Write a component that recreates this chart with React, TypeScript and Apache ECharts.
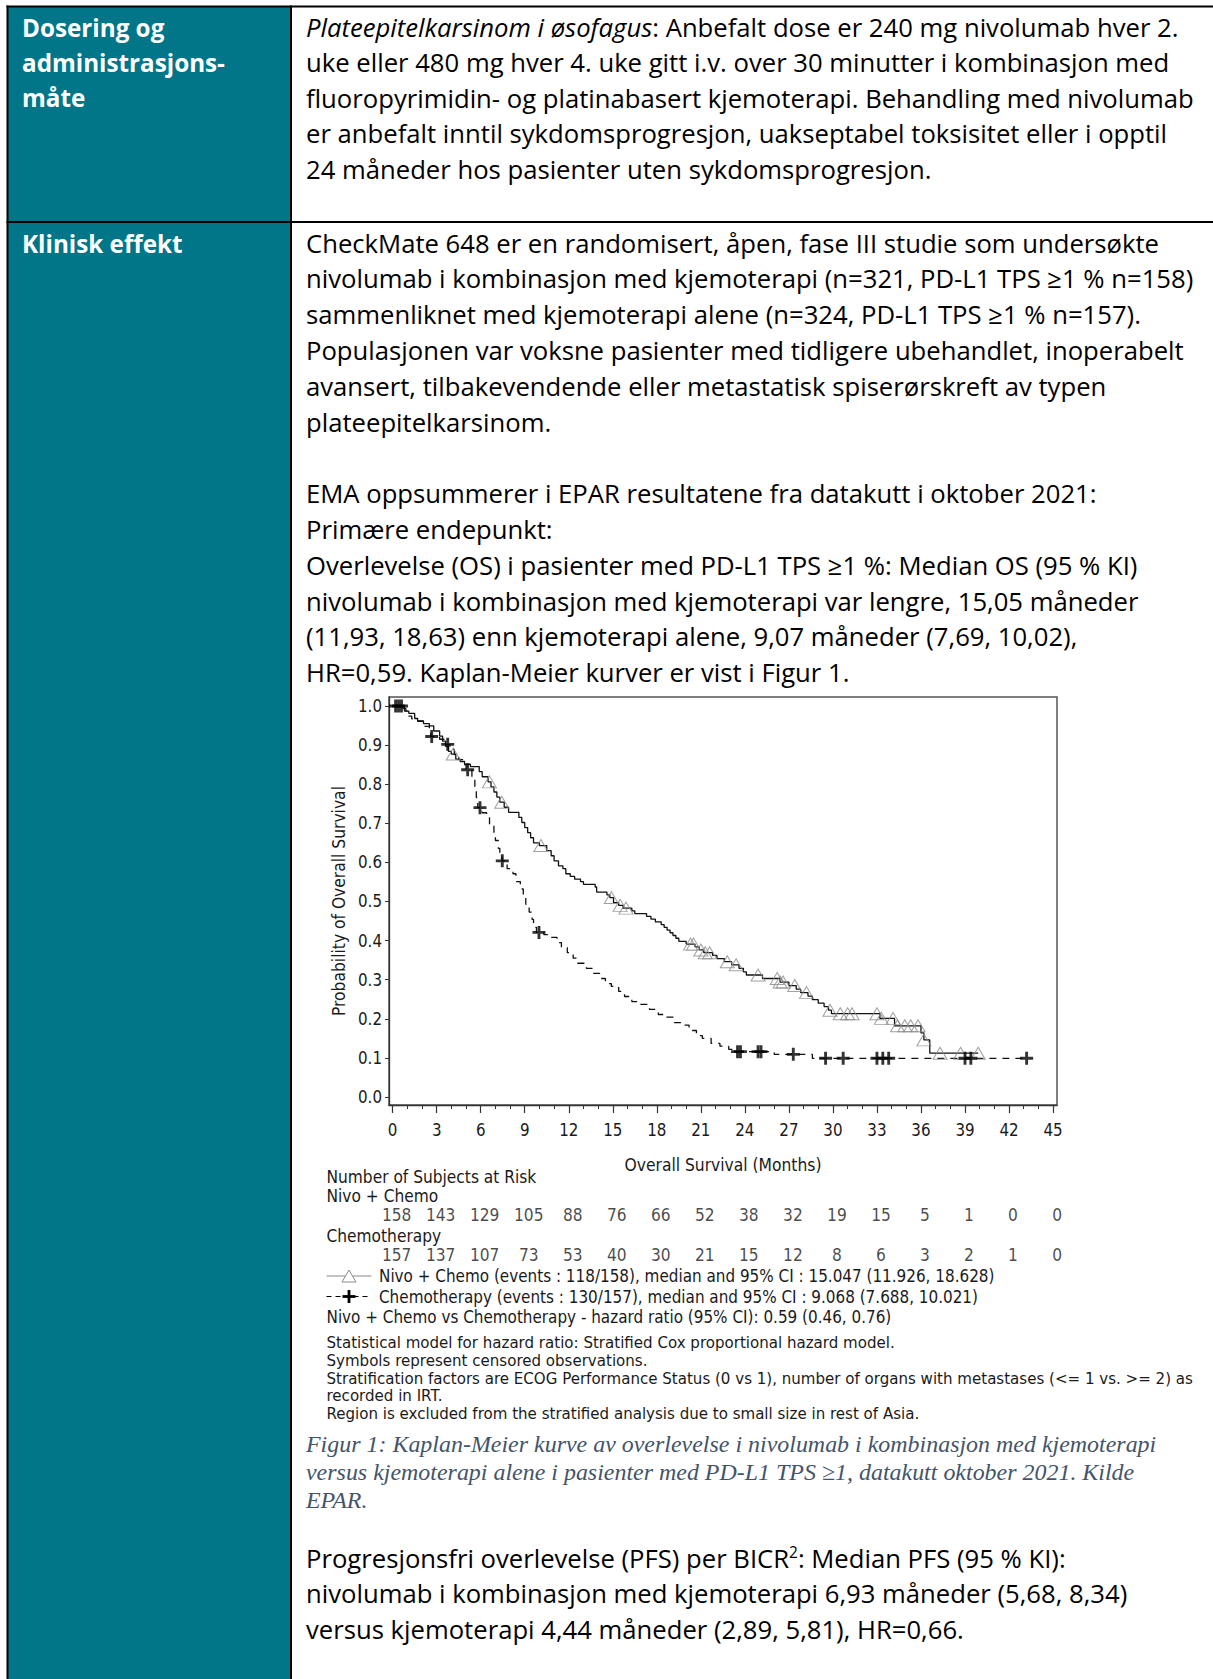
import React, { useEffect, useRef } from "react";
import * as echarts from "echarts";

const W = 1213;
const H = 1679;

// ---------------- data ----------------
const xTicks = [0, 3, 6, 9, 12, 15, 18, 21, 24, 27, 30, 33, 36, 39, 42, 45];
const yTicks = [0, 0.1, 0.2, 0.3, 0.4, 0.5, 0.6, 0.7, 0.8, 0.9, 1.0];
const riskGroups = ["Nivo + Chemo", "Chemotherapy"];
const riskNivo = [158, 143, 129, 105, 88, 76, 66, 52, 38, 32, 19, 15, 5, 1, 0, 0];
const riskChemo = [157, 137, 107, 73, 53, 40, 30, 21, 15, 12, 8, 6, 3, 2, 1, 0];

const nivoTimes = [0, 0.7, 0.9, 1.1, 1.5, 1.7, 2.1, 2.5, 2.8, 3.2, 3.4, 3.6, 3.8, 4.0, 4.3, 4.6, 4.9, 5.3, 5.9, 6.1, 6.5, 6.7, 6.9, 7.1, 7.3, 7.6, 7.9, 8.6, 8.8, 9.0, 9.2, 9.4, 9.6, 10.0, 10.5, 10.8, 11.0, 11.3, 11.6, 11.8, 12.1, 12.4, 12.8, 13.0, 13.8, 13.9, 14.6, 14.8, 15.05, 15.4, 15.7, 16.3, 16.5, 17.3, 17.6, 17.9, 18.3, 18.5, 18.7, 18.9, 19.1, 19.3, 19.5, 20.0, 20.6, 20.9, 21.2, 21.8, 22.1, 22.6, 23.1, 23.6, 23.9, 24.1, 25.2, 26.4, 27.0, 27.5, 27.8, 28.3, 28.6, 29.0, 29.4, 29.7, 29.9, 33.2, 34.2, 36.0, 36.2, 36.6];
const nivoSurv = [1.0, 0.994, 0.987, 0.981, 0.968, 0.962, 0.955, 0.949, 0.936, 0.923, 0.91, 0.897, 0.884, 0.877, 0.864, 0.858, 0.851, 0.845, 0.832, 0.819, 0.806, 0.793, 0.78, 0.767, 0.754, 0.741, 0.728, 0.715, 0.702, 0.689, 0.676, 0.663, 0.65, 0.643, 0.63, 0.617, 0.604, 0.591, 0.584, 0.571, 0.564, 0.557, 0.551, 0.544, 0.537, 0.524, 0.517, 0.51, 0.497, 0.49, 0.483, 0.476, 0.469, 0.462, 0.455, 0.448, 0.441, 0.434, 0.427, 0.42, 0.413, 0.406, 0.398, 0.391, 0.384, 0.376, 0.369, 0.362, 0.354, 0.346, 0.338, 0.329, 0.32, 0.312, 0.303, 0.294, 0.285, 0.276, 0.267, 0.258, 0.249, 0.24, 0.231, 0.222, 0.213, 0.201, 0.182, 0.164, 0.146, 0.112];
const nivoCensor = [4.13, 6.59, 7.43, 10.1, 14.9, 15.5, 15.9, 20.3, 20.5, 21.0, 21.3, 21.6, 22.8, 23.4, 24.9, 26.2, 26.4, 26.6, 27.4, 28.2, 29.8, 30.5, 31.0, 31.3, 33.0, 33.3, 34.1, 34.4, 34.9, 35.3, 35.8, 36.2, 37.3, 38.7, 39.9];

const chemoTimes = [0, 0.8, 1.0, 1.3, 1.7, 2.2, 2.5, 2.6, 3.2, 3.5, 3.9, 4.2, 4.5, 4.8, 5.0, 5.4, 5.6, 5.7, 5.8, 6.1, 6.4, 6.6, 6.9, 7.0, 7.2, 7.3, 7.45, 7.8, 8.2, 8.4, 8.7, 8.9, 9.07, 9.3, 9.5, 9.6, 9.8, 10.3, 10.7, 11.2, 11.5, 11.9, 12.3, 12.6, 13.2, 13.6, 14.1, 14.5, 14.9, 15.4, 15.8, 16.3, 16.8, 17.5, 18.1, 18.6, 19.2, 19.7, 20.2, 20.7, 21.1, 21.7, 22.3, 22.9, 23.4, 26.0, 28.6];
const chemoSurv = [1.0, 0.987, 0.974, 0.967, 0.961, 0.948, 0.941, 0.922, 0.915, 0.902, 0.889, 0.876, 0.863, 0.85, 0.837, 0.818, 0.792, 0.766, 0.74, 0.727, 0.714, 0.694, 0.675, 0.656, 0.636, 0.617, 0.604, 0.584, 0.571, 0.551, 0.532, 0.512, 0.493, 0.473, 0.454, 0.434, 0.421, 0.415, 0.408, 0.395, 0.382, 0.369, 0.355, 0.342, 0.329, 0.316, 0.303, 0.29, 0.283, 0.27, 0.257, 0.244, 0.237, 0.224, 0.211, 0.204, 0.19, 0.184, 0.17, 0.157, 0.15, 0.137, 0.13, 0.122, 0.116, 0.109, 0.099];
const chemoCensor = [0.2, 0.4, 0.6, 2.66, 3.75, 5.11, 5.95, 7.47, 9.97, 23.5, 23.7, 24.9, 25.1, 27.3, 29.5, 30.7, 33.0, 33.4, 33.8, 39.0, 39.4, 43.2];

// ---------------- texts ----------------
const rowOneLeft = ["Dosering og", "administrasjons-", "måte"];
const rowOneRight = [
  "{i|Plateepitelkarsinom i øsofagus}: Anbefalt dose er 240 mg nivolumab hver 2.",
  "uke eller 480 mg hver 4. uke gitt i.v. over 30 minutter i kombinasjon med",
  "fluoropyrimidin- og platinabasert kjemoterapi. Behandling med nivolumab",
  "er anbefalt inntil sykdomsprogresjon, uakseptabel toksisitet eller i opptil",
  "24 måneder hos pasienter uten sykdomsprogresjon.",
];
const rowTwoLeft = ["Klinisk effekt"];
const rowTwoRight = [
  "CheckMate 648 er en randomisert, åpen, fase III studie som undersøkte",
  "nivolumab i kombinasjon med kjemoterapi (n=321, PD-L1 TPS ≥1 % n=158)",
  "sammenliknet med kjemoterapi alene (n=324, PD-L1 TPS ≥1 % n=157).",
  "Populasjonen var voksne pasienter med tidligere ubehandlet, inoperabelt",
  "avansert, tilbakevendende eller metastatisk spiserørskreft av typen",
  "plateepitelkarsinom.",
  "",
  "EMA oppsummerer i EPAR resultatene fra datakutt i oktober 2021:",
  "Primære endepunkt:",
  "Overlevelse (OS) i pasienter med PD-L1 TPS ≥1 %: Median OS (95 % KI)",
  "nivolumab i kombinasjon med kjemoterapi var lengre, 15,05 måneder",
  "(11,93, 18,63) enn kjemoterapi alene, 9,07 måneder (7,69, 10,02),",
  "HR=0,59. Kaplan-Meier kurver er vist i Figur 1.",
];
const captionLines = [
  "Figur 1: Kaplan-Meier kurve av overlevelse i nivolumab i kombinasjon med kjemoterapi",
  "versus kjemoterapi alene i pasienter med PD-L1 TPS ≥1, datakutt oktober 2021. Kilde",
  "EPAR.",
];
const pfsLines = [
  "Progresjonsfri overlevelse (PFS) per BICR{sup|2}: Median PFS (95 % KI):",
  "nivolumab i kombinasjon med kjemoterapi 6,93 måneder (5,68, 8,34)",
  "versus kjemoterapi 4,44 måneder (2,89, 5,81), HR=0,66.",
];
const legendLines = [
  "Nivo + Chemo (events : 118/158), median and 95% CI : 15.047 (11.926, 18.628)",
  "Chemotherapy (events : 130/157), median and 95% CI : 9.068 (7.688, 10.021)",
];
const hrLine = "Nivo + Chemo vs Chemotherapy - hazard ratio (95% CI): 0.59 (0.46, 0.76)";
const footLines = [
  "Statistical model for hazard ratio: Stratified Cox proportional hazard model.",
  "Symbols represent censored observations.",
  "Stratification factors are ECOG Performance Status (0 vs 1), number of organs with metastases (<= 1 vs. >= 2) as",
  "recorded in IRT.",
  "Region is excluded from the stratified analysis due to small size in rest of Asia.",
];

// ---------------- helpers ----------------
const MAIN_F = '"Open Sans", Calibri, sans-serif';
const SERIF_F = '"Liberation Serif", "Times New Roman", serif';
const CHART_F = '"DejaVu Sans Condensed", "DejaVu Sans", sans-serif';
const FOOT_F = '"DejaVu Sans", Verdana, sans-serif';
const TEAL = "#007688";

let measureCtx: CanvasRenderingContext2D | null = null;
function fitSize(text: string, family: string, target: number, weight = "normal", style = "normal") {
  if (!measureCtx) measureCtx = document.createElement("canvas").getContext("2d");
  const ctx = measureCtx!;
  ctx.font = `${style} ${weight} 100px ${family}`;
  const w = ctx.measureText(text).width;
  return w > 0 ? (100 * target) / w : 16;
}

function survAt(times: number[], surv: number[], t: number) {
  let s = surv[0];
  for (let i = 0; i < times.length; i++) {
    if (times[i] <= t) s = surv[i];
  }
  return s;
}

function stepData(times: number[], surv: number[], censor: number[]) {
  const d = times.map((t, i) => [t, surv[i]]);
  const lastC = Math.max(...censor);
  if (lastC > times[times.length - 1]) d.push([lastC, surv[surv.length - 1]]);
  return d;
}

function txt(text: string, x: number, y: number, s: any, rich?: any) {
  return {
    type: "text",
    x,
    y,
    z: 20,
    silent: true,
    style: {
      text,
      fill: s.fill || "#000",
      fontSize: s.size,
      fontFamily: s.family,
      fontWeight: s.weight || "normal",
      fontStyle: s.style || "normal",
      align: "left",
      verticalAlign: "middle",
      rich,
    },
  };
}

function buildOption() {
  const mainSize = fitSize(rowOneRight[1], MAIN_F, 864);
  const boldSize = fitSize("administrasjons-", MAIN_F, 203, "bold");
  const capSize = fitSize(captionLines[0], SERIF_F, 851, "normal", "italic");
  const riskSize = fitSize("Number of Subjects at Risk", CHART_F, 210);
  const legSize = fitSize(legendLines[0], CHART_F, 616);
  const footSize = fitSize(footLines[2], FOOT_F, 867);
  const yNameSize = fitSize("Probability of Overall Survival", CHART_F, 230);
  const xNameSize = fitSize("Overall Survival (Months)", CHART_F, 197);
  const tickSize = fitSize("1.0", CHART_F, 24);

  const mainStyle = { size: mainSize, family: MAIN_F, fill: "#000" };
  const leftStyle = { size: boldSize, family: MAIN_F, fill: "#fff", weight: "bold" };
  const capStyle = { size: capSize, family: SERIF_F, fill: "#44546A", style: "italic" };
  const riskStyle = { size: riskSize, family: CHART_F, fill: "#1a1a1a" };
  const legStyle = { size: legSize, family: CHART_F, fill: "#1a1a1a" };
  const footStyle = { size: footSize, family: FOOT_F, fill: "#1a1a1a" };

  const graphics: any[] = [];
  // table background and borders
  graphics.push({ type: "rect", z: 1, silent: true, shape: { x: 7.5, y: 6.5, width: 283.5, height: H }, style: { fill: TEAL } });
  const border = { stroke: "#000", lineWidth: 2 };
  graphics.push({ type: "line", z: 5, silent: true, shape: { x1: 6.5, y1: 6.5, x2: W, y2: 6.5 }, style: border });
  graphics.push({ type: "line", z: 5, silent: true, shape: { x1: 7.5, y1: 5.5, x2: 7.5, y2: H }, style: border });
  graphics.push({ type: "line", z: 5, silent: true, shape: { x1: 291, y1: 5.5, x2: 291, y2: H }, style: border });
  graphics.push({ type: "line", z: 5, silent: true, shape: { x1: 6.5, y1: 222, x2: W, y2: 222 }, style: border });

  rowOneLeft.forEach((t, i) => graphics.push(txt(t, 22, 27 + i * 35.4, leftStyle)));
  rowTwoLeft.forEach((t, i) => graphics.push(txt(t, 22, 243 + i * 35.8, leftStyle)));
  const richMain = {
    i: { fontStyle: "italic", fontSize: mainSize, fontFamily: MAIN_F, fill: "#000" },
    sup: { fontSize: mainSize * 0.6, fontFamily: MAIN_F, fill: "#000", verticalAlign: "top" },
  };
  rowOneRight.forEach((t, i) => graphics.push(txt(t, 306, 27 + i * 35.6, mainStyle, richMain)));
  rowTwoRight.forEach((t, i) => {
    if (t) graphics.push(txt(t, 306, 243 + i * 35.8, mainStyle));
  });
  captionLines.forEach((t, i) => graphics.push(txt(t, 306, 1444 + i * 27.8, capStyle)));
  pfsLines.forEach((t, i) => graphics.push(txt(t, 306, 1558 + i * 35.8, mainStyle, richMain)));

  // chart annotations
  graphics.push(txt("Number of Subjects at Risk", 326.5, 1177, riskStyle));
  graphics.push(txt(riskGroups[0], 326.5, 1195.5, riskStyle));
  graphics.push(txt(riskGroups[1], 326.5, 1236, riskStyle));
  // legend samples
  graphics.push({ type: "line", z: 20, silent: true, shape: { x1: 326.5, y1: 1276, x2: 371.5, y2: 1276 }, style: { stroke: "#8a8a8a", lineWidth: 1 } });
  graphics.push({ type: "polygon", z: 21, silent: true, shape: { points: [[342, 1282], [349, 1270], [356, 1282]] }, style: { stroke: "#8a8a8a", fill: "#fff", lineWidth: 1 } });
  graphics.push({ type: "line", z: 20, silent: true, shape: { x1: 326.5, y1: 1296.5, x2: 371.5, y2: 1296.5 }, style: { stroke: "#000", lineWidth: 1.2, lineDash: [5, 4] } });
  graphics.push({ type: "rect", z: 21, silent: true, shape: { x: 342.5, y: 1295.1, width: 13, height: 2.8 }, style: { fill: "#000" } });
  graphics.push({ type: "rect", z: 21, silent: true, shape: { x: 347.6, y: 1290, width: 2.8, height: 13 }, style: { fill: "#000" } });
  legendLines.forEach((t, i) => graphics.push(txt(t, 379, 1276 + i * 20.5, legStyle)));
  graphics.push(txt(hrLine, 326.5, 1317, legStyle));
  footLines.forEach((t, i) => graphics.push(txt(t, 326.5, 1343 + i * 17.8, footStyle)));

  const minorTicks: number[] = [];
  for (let m = 0; m <= 45; m++) minorTicks.push(m);

  const xMin = -0.25;
  const xMax = 45.27;
  const axisColor = "#333";

  const nivoLine = stepData(nivoTimes, nivoSurv, nivoCensor);
  const chemoLine = stepData(chemoTimes, chemoSurv, chemoCensor);
  const nivoMarks = nivoCensor.map((t) => [t, survAt(nivoTimes, nivoSurv, t)]);
  const chemoMarks = chemoCensor.map((t) => [t, survAt(chemoTimes, chemoSurv, t)]);

  const riskLabel = {
    show: true,
    position: "inside",
    offset: [4, 0],
    formatter: (p: any) => String(p.value[2]),
    fontSize: riskSize,
    fontFamily: CHART_F,
    color: "#1a1a1a",
  };

  return {
    animation: false,
    backgroundColor: "#fff",
    textStyle: { fontFamily: CHART_F },
    grid: [
      { left: 389, top: 697, width: 668, height: 408, show: true, borderColor: "#555", borderWidth: 1.5, backgroundColor: "transparent" },
      { left: 389, top: 1195, width: 668, height: 80, show: false },
    ],
    xAxis: [
      {
        gridIndex: 0,
        type: "value",
        min: xMin,
        max: xMax,
        position: "bottom",
        axisLine: { show: true, onZero: false, lineStyle: { color: axisColor, width: 1.3 } },
        axisTick: { show: true, customValues: minorTicks, length: 4, lineStyle: { color: axisColor, width: 1 } },
        axisLabel: { show: true, customValues: xTicks, margin: 16, fontSize: tickSize, color: "#1a1a1a", fontFamily: CHART_F },
        splitLine: { show: false },
        name: "Overall Survival (Months)",
        nameLocation: "middle",
        nameGap: 51,
        nameTextStyle: { fontSize: xNameSize, fontFamily: CHART_F, color: "#1a1a1a" },
      },
      {
        gridIndex: 0,
        type: "value",
        min: xMin,
        max: xMax,
        position: "bottom",
        axisLine: { show: false, onZero: false },
        axisTick: { show: true, customValues: xTicks, length: 8, lineStyle: { color: axisColor, width: 1.2 } },
        axisLabel: { show: false },
        splitLine: { show: false },
      },
      { gridIndex: 1, type: "value", min: xMin, max: xMax, show: false },
    ],
    yAxis: [
      {
        gridIndex: 0,
        type: "value",
        min: -0.0205,
        max: 1.023,
        axisLine: { show: true, onZero: false, lineStyle: { color: axisColor, width: 1.3 } },
        axisTick: { show: true, customValues: yTicks, length: 4, lineStyle: { color: axisColor, width: 1 } },
        axisLabel: { show: true, customValues: yTicks, formatter: (v: number) => v.toFixed(1), margin: 7, fontSize: tickSize, color: "#1a1a1a", fontFamily: CHART_F },
        splitLine: { show: false },
        name: "Probability of Overall Survival",
        nameLocation: "middle",
        nameGap: 42,
        nameTextStyle: { fontSize: yNameSize, fontFamily: CHART_F, color: "#1a1a1a" },
      },
      { gridIndex: 1, type: "category", data: riskGroups, inverse: true, show: false },
    ],
    series: [
      {
        type: "line",
        name: "Nivo + Chemo",
        xAxisIndex: 0,
        yAxisIndex: 0,
        data: nivoLine,
        step: "end",
        symbol: "none",
        showSymbol: false,
        lineStyle: { color: "#111", width: 1.3 },
        z: 3,
      },
      {
        type: "line",
        name: "Chemotherapy",
        xAxisIndex: 0,
        yAxisIndex: 0,
        data: chemoLine,
        step: "end",
        symbol: "none",
        showSymbol: false,
        lineStyle: { color: "#111", width: 1.3, type: [7, 6] },
        z: 3,
      },
      {
        type: "scatter",
        name: "Nivo + Chemo censored",
        xAxisIndex: 0,
        yAxisIndex: 0,
        data: nivoMarks,
        symbol: "triangle",
        symbolSize: [14, 12],
        itemStyle: { color: "rgba(255,255,255,0)", borderColor: "#8a8a8a", borderWidth: 1 },
        z: 4,
      },
      {
        type: "scatter",
        name: "Chemotherapy censored",
        xAxisIndex: 0,
        yAxisIndex: 0,
        data: chemoMarks,
        symbol: "path://M3.9,0H6.1V3.9H10V6.1H6.1V10H3.9V6.1H0V3.9H3.9Z",
        symbolSize: 13,
        itemStyle: { color: "#000" },
        z: 5,
      },
      {
        type: "scatter",
        name: "risk nivo",
        xAxisIndex: 2,
        yAxisIndex: 1,
        data: xTicks.map((t, i) => [t, riskGroups[0], riskNivo[i]]),
        symbolSize: 1,
        itemStyle: { color: "rgba(0,0,0,0)" },
        label: riskLabel,
      },
      {
        type: "scatter",
        name: "risk chemo",
        xAxisIndex: 2,
        yAxisIndex: 1,
        data: xTicks.map((t, i) => [t, riskGroups[1], riskChemo[i]]),
        symbolSize: 1,
        itemStyle: { color: "rgba(0,0,0,0)" },
        label: riskLabel,
      },
    ],
    graphic: graphics,
  };
}

export default function App() {
  const ref = useRef<HTMLDivElement>(null);
  useEffect(() => {
    if (!ref.current) return;
    const chart = echarts.init(ref.current, undefined, { renderer: "svg", width: W, height: H });
    chart.setOption(buildOption() as any);
    return () => chart.dispose();
  }, []);
  return (
    <div
      ref={ref}
      style={{ position: "absolute", left: 0, top: 0, width: W, height: H, background: "#fff", overflow: "hidden" }}
    />
  );
}
